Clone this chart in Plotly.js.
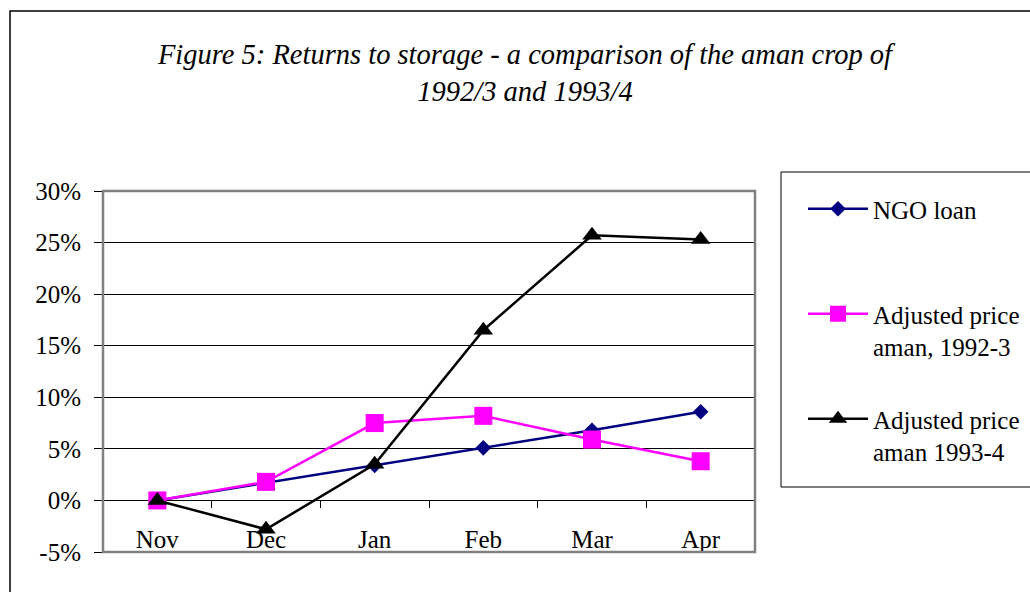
<!DOCTYPE html>
<html>
<head>
<meta charset="utf-8">
<script src="https://cdn.plot.ly/plotly-3.0.1.min.js"></script>
<style>html,body{margin:0;padding:0;background:#fff;}#chart{width:1030px;height:592px;}</style>
</head>
<body>
<div id="chart"></div>
<script>
const months = ["Nov", "Dec", "Jan", "Feb", "Mar", "Apr"];
const ngoLoan = [0, 0.017, 0.034, 0.051, 0.068, 0.086];
const adj1992 = [0, 0.018, 0.075, 0.082, 0.059, 0.038];
const adj1993 = [0, -0.028, 0.035, 0.165, 0.257, 0.253];
const seriesNames = ["NGO loan<br>&nbsp;", "Adjusted price<br>aman, 1992-3", "Adjusted price<br>aman 1993-4"];
const yTicks = [-0.05, 0, 0.05, 0.10, 0.15, 0.20, 0.25, 0.30];
const yTickText = ["-5%", "0%", "5%", "10%", "15%", "20%", "25%", "30%"];

const serif = "Liberation Serif";

const traces = [
  {x: months, y: ngoLoan, name: seriesNames[0], type: "scatter", mode: "lines+markers",
   legendgroup: "a",
   line: {color: "#000080", width: 2.5}, marker: {symbol: "diamond", size: 12, color: "#000080"}},
  {x: months, y: adj1992, name: seriesNames[1], type: "scatter", mode: "lines+markers",
   legendgroup: "b",
   line: {color: "#FF00FF", width: 2.5}, marker: {symbol: "square", size: 18, color: "#FF00FF"}},
  {x: months, y: adj1993, name: seriesNames[2], type: "scatter", mode: "lines+markers",
   legendgroup: "c",
   line: {color: "#000000", width: 2.5}, marker: {symbol: "triangle-up", size: 17, color: "#000000"}}
];

const L = 103, R = 755, T = 191, B = 552;
const px = v => (v - L) / (R - L);
const py = v => (B - v) / (B - T);

const layout = {
  width: 1030, height: 592,
  margin: {l: L, r: 1030 - R, t: T, b: 592 - B, autoexpand: false},
  paper_bgcolor: "#ffffff", plot_bgcolor: "#ffffff",
  font: {family: serif, color: "#000000", size: 24},
  title: {
    text: "<i>Figure 5: Returns to storage - a comparison of the aman crop of<br>1992/3 and 1993/4</i>",
    font: {family: serif, size: 28.5, color: "#000"},
    xref: "container", yref: "container", x: 525 / 1030, xanchor: "center",
    y: 1 - 64 / 592, yanchor: "middle"
  },
  showlegend: true,
  legend: {
    x: px(803), xanchor: "left", y: py(186), yanchor: "top",
    bgcolor: "rgba(0,0,0,0)", borderwidth: 0, valign: "top",
    font: {family: serif, size: 25, color: "#000"},
    tracegroupgap: 37, traceorder: "grouped", itemwidth: 60
  },
  xaxis: {
    type: "category", range: [-0.5, 5.5],
    anchor: "free", position: py(500),
    showgrid: false, zeroline: false, showline: false,
    ticks: "outside", tickson: "boundaries", ticklen: 7, tickwidth: 1, tickcolor: "#000",
    ticklabelstandoff: 22,
    tickfont: {family: serif, size: 25, color: "#000"},
    fixedrange: true
  },
  yaxis: {
    range: [-0.05, 0.30], tickvals: yTicks, ticktext: yTickText,
    showgrid: true, gridcolor: "#000000", gridwidth: 1,
    zeroline: true, zerolinecolor: "#000000", zerolinewidth: 1,
    showline: false,
    ticks: "outside", ticklen: 8, tickwidth: 1, tickcolor: "#000",
    ticklabelstandoff: 8,
    tickfont: {family: serif, size: 25, color: "#000"},
    fixedrange: true
  },
  shapes: [
    {type: "rect", xref: "paper", yref: "paper", x0: 0, x1: 1, y0: 0, y1: 1,
     line: {color: "#808080", width: 2.5}, layer: "above"},
    {type: "rect", xref: "paper", yref: "paper", x0: px(10), x1: px(1045), y0: py(11), y1: py(610),
     line: {color: "#000000", width: 1.5}},
    {type: "rect", xref: "paper", yref: "paper", x0: px(781), x1: px(1045), y0: py(487), y1: py(172),
     line: {color: "#000000", width: 1}}
  ]
};

Plotly.newPlot("chart", traces, layout, {displayModeBar: false, staticPlot: true});
</script>
</body>
</html>
